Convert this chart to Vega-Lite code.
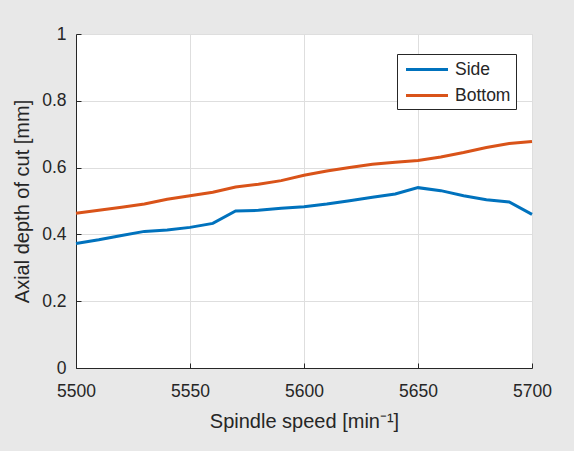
{
  "$schema": "https://vega.github.io/schema/vega-lite/v6.json",
  "width": 456,
  "height": 334,
  "autosize": {"type": "none"},
  "padding": {"left": 76, "top": 34, "right": 42, "bottom": 83},
  "background": "#e8e8e8",
  "config": {
    "font": "Liberation Sans",
    "view": {"fill": "white", "stroke": "#d9d9d9", "strokeWidth": 1},
    "axis": {
      "labelFont": "Liberation Sans",
      "titleFont": "Liberation Sans",
      "labelColor": "#262626",
      "titleColor": "#262626",
      "labelFontSize": 17.5,
      "titleFontSize": 20,
      "titleFontWeight": "normal",
      "domainColor": "#262626",
      "tickColor": "#262626",
      "gridColor": "#dedede",
      "gridWidth": 1,
      "tickSize": -5
    }
  },
  "data": {
    "values": [
      {"speed": 5500, "depth": 0.373, "case": "Side"},
      {"speed": 5510, "depth": 0.384, "case": "Side"},
      {"speed": 5520, "depth": 0.397, "case": "Side"},
      {"speed": 5530, "depth": 0.409, "case": "Side"},
      {"speed": 5540, "depth": 0.413, "case": "Side"},
      {"speed": 5550, "depth": 0.421, "case": "Side"},
      {"speed": 5560, "depth": 0.433, "case": "Side"},
      {"speed": 5570, "depth": 0.470, "case": "Side"},
      {"speed": 5580, "depth": 0.472, "case": "Side"},
      {"speed": 5590, "depth": 0.478, "case": "Side"},
      {"speed": 5600, "depth": 0.483, "case": "Side"},
      {"speed": 5610, "depth": 0.491, "case": "Side"},
      {"speed": 5620, "depth": 0.501, "case": "Side"},
      {"speed": 5630, "depth": 0.511, "case": "Side"},
      {"speed": 5640, "depth": 0.521, "case": "Side"},
      {"speed": 5650, "depth": 0.540, "case": "Side"},
      {"speed": 5660, "depth": 0.531, "case": "Side"},
      {"speed": 5670, "depth": 0.516, "case": "Side"},
      {"speed": 5680, "depth": 0.504, "case": "Side"},
      {"speed": 5690, "depth": 0.497, "case": "Side"},
      {"speed": 5700, "depth": 0.460, "case": "Side"},
      {"speed": 5500, "depth": 0.463, "case": "Bottom"},
      {"speed": 5510, "depth": 0.472, "case": "Bottom"},
      {"speed": 5520, "depth": 0.481, "case": "Bottom"},
      {"speed": 5530, "depth": 0.491, "case": "Bottom"},
      {"speed": 5540, "depth": 0.505, "case": "Bottom"},
      {"speed": 5550, "depth": 0.516, "case": "Bottom"},
      {"speed": 5560, "depth": 0.526, "case": "Bottom"},
      {"speed": 5570, "depth": 0.542, "case": "Bottom"},
      {"speed": 5580, "depth": 0.550, "case": "Bottom"},
      {"speed": 5590, "depth": 0.561, "case": "Bottom"},
      {"speed": 5600, "depth": 0.577, "case": "Bottom"},
      {"speed": 5610, "depth": 0.590, "case": "Bottom"},
      {"speed": 5620, "depth": 0.600, "case": "Bottom"},
      {"speed": 5630, "depth": 0.610, "case": "Bottom"},
      {"speed": 5640, "depth": 0.616, "case": "Bottom"},
      {"speed": 5650, "depth": 0.621, "case": "Bottom"},
      {"speed": 5660, "depth": 0.632, "case": "Bottom"},
      {"speed": 5670, "depth": 0.645, "case": "Bottom"},
      {"speed": 5680, "depth": 0.660, "case": "Bottom"},
      {"speed": 5690, "depth": 0.672, "case": "Bottom"},
      {"speed": 5700, "depth": 0.678, "case": "Bottom"}
    ]
  },
  "mark": {"type": "line", "strokeWidth": 3},
  "encoding": {
    "x": {
      "field": "speed",
      "type": "quantitative",
      "scale": {"domain": [5500, 5700], "nice": false, "zero": false},
      "axis": {"values": [5500, 5550, 5600, 5650, 5700], "format": "d", "title": "Spindle speed [min⁻¹]", "labelPadding": 19, "titlePadding": 12, "labelFlush": false}
    },
    "y": {
      "field": "depth",
      "type": "quantitative",
      "scale": {"domain": [0, 1], "nice": false},
      "axis": {"values": [0, 0.2, 0.4, 0.6, 0.8, 1], "format": "~g", "title": "Axial depth of cut [mm]", "labelPadding": 15, "titlePadding": 9, "labelFlush": false}
    },
    "color": {
      "field": "case",
      "type": "nominal",
      "scale": {"domain": ["Side", "Bottom"], "range": ["#0072BD", "#D95319"]},
      "legend": {
        "title": null,
        "orient": "none",
        "legendX": 321,
        "legendY": 20,
        "direction": "vertical",
        "fillColor": "white",
        "strokeColor": "#262626",
        "padding": 5,
        "symbolType": "M-0.75,0H4.1",
        "symbolSize": 300,
        "symbolStrokeWidth": 3,
        "labelFontSize": 17.5,
        "labelFont": "Liberation Sans",
        "labelColor": "#262626",
        "rowPadding": 7,
        "labelOffset": 32
      }
    }
  }
}
